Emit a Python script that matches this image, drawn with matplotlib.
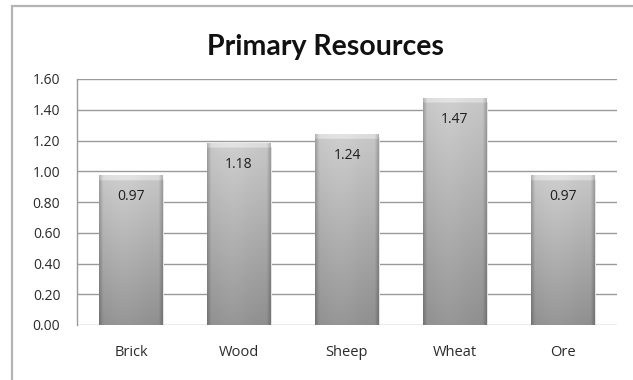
import numpy as np
import matplotlib
matplotlib.use("Agg")
import matplotlib.pyplot as plt
from matplotlib.patches import Rectangle

categories = ["Brick", "Wood", "Sheep", "Wheat", "Ore"]
values = [0.97, 1.18, 1.24, 1.47, 0.97]
yticks = [0.0, 0.2, 0.4, 0.6, 0.8, 1.0, 1.2, 1.4, 1.6]
title = "Primary Resources"

plt.rcParams["font.family"] = ["Open Sans", "DejaVu Sans"]

fig = plt.figure(figsize=(6.33, 3.8), dpi=100)
fig.patch.set_facecolor("white")

# outer chart frame
frame = Rectangle((12 / 633, -0.05), 1.2, (380 - 6) / 380 + 0.05,
                  transform=fig.transFigure, fill=False,
                  edgecolor="#b4b4b4", linewidth=1.6)
fig.add_artist(frame)

ax = fig.add_axes([77 / 633, 55 / 380, 540 / 633, 246 / 380])
ax.set_xlim(-0.5, len(categories) - 0.5)
ax.set_ylim(0, 1.6)

for s in ["top", "right", "bottom"]:
    ax.spines[s].set_visible(False)
ax.spines["left"].set_color("#9a9a9a")
ax.spines["left"].set_linewidth(1.0)

ax.set_yticks(yticks)
ax.set_yticklabels([f"{t:.2f}" for t in yticks])
ax.yaxis.grid(True, color="#9a9a9a", linewidth=1.0)
ax.set_axisbelow(True)
ax.tick_params(axis="y", length=0, pad=12, labelsize=10, labelcolor="#2a2a2a")
ax.tick_params(axis="x", length=0, pad=14.5, labelsize=10.5, labelcolor="#2a2a2a")
ax.set_xticks(range(len(categories)))
ax.set_xticklabels(categories)

width = 0.59

# shaded bar texture: light top fading to darker bottom, darker bevelled edges
ny, nx = 200, 60
yy = np.linspace(0, 1, ny)[:, None]          # 0 at top, 1 at bottom
xx = np.linspace(0, 1, nx)[None, :]
base = 0.78 - 0.22 * yy
edge = np.clip(np.minimum(xx, 1 - xx) / 0.06, 0, 1)
shade = base * (0.80 + 0.20 * edge)
shade = shade + 0.03 * np.exp(-((xx - 0.4) / 0.3) ** 2)

bars = ax.bar(range(len(categories)), values, width=width,
              color="none", edgecolor="none", zorder=3)
for i, (b, v) in enumerate(zip(bars, values)):
    x0 = b.get_x()
    # faint drop shadow on the right
    ax.add_patch(Rectangle((x0 + width, 0), 0.015, v - 0.02,
                           facecolor="#e4e4e4", edgecolor="none", zorder=2))
    # top bevel strip
    sh = shade.copy()
    top = int(ny * min(0.035 / v, 0.2))
    sh[:top, :] = sh[:top, :] + 0.08
    rgb = np.clip(np.dstack([sh, sh, sh]), 0, 1)
    ax.imshow(rgb, extent=[x0, x0 + width, 0, v], aspect="auto",
              zorder=3, interpolation="bilinear")
    ax.annotate(f"{v:.2f}", (i, v), xytext=(0, -15), textcoords="offset points",
                ha="center", va="center", fontsize=10, color="#1e1e1e",
                zorder=5)

ax.set_xlim(-0.5, len(categories) - 0.5)
ax.set_ylim(0, 1.6)

fig.text(325 / 633, 1 - 55 / 380, title, ha="center", va="baseline",
         fontsize=20.5, fontweight="bold", color="#111111", family="Lato")

fig.savefig("out.png", dpi=100, facecolor="white")
